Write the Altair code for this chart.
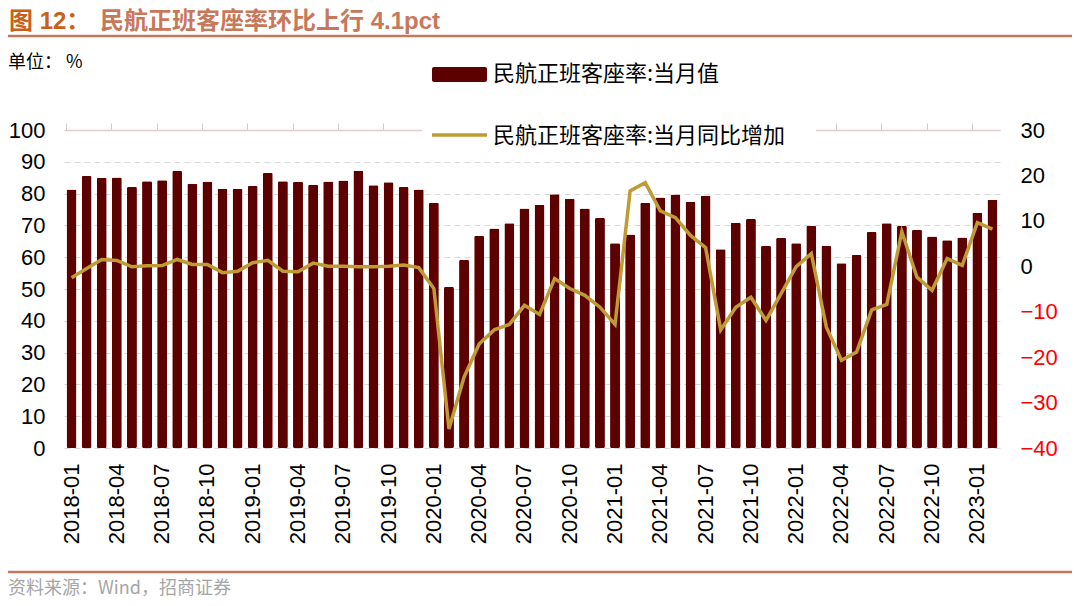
import altair as alt
import pandas as pd

# ---------------- data ----------------
months = [f"{y}-{m:02d}" for y in range(2018, 2024) for m in range(1, 13)][:62]

load_factor = [
    81.3, 85.5, 85.0, 85.1, 82.1, 83.9, 84.2, 87.1, 83.1, 83.7, 81.5, 81.5,   # 2018
    82.4, 86.5, 83.9, 83.7, 82.8, 83.8, 84.1, 87.2, 82.6, 83.6, 82.1, 81.3,   # 2019
    77.1, 50.6, 59.1, 66.7, 69.0, 70.7, 75.3, 76.5, 79.8, 78.4, 75.3, 72.3,   # 2020
    64.4, 67.1, 77.1, 78.8, 79.7, 77.4, 79.3, 62.5, 70.8, 72.0, 63.5, 66.0,   # 2021
    64.4, 69.8, 63.5, 58.1, 60.7, 67.9, 70.7, 69.8, 68.6, 66.5, 65.3, 66.2,   # 2022
    74.0, 78.1,                                                               # 2023
]

yoy_change = [
    -2.5, -0.5, 1.5, 1.3, -0.1, 0.1, 0.15, 1.5, 0.4, 0.4, -1.4, -1.1,         # 2018
    0.8, 1.3, -1.1, -1.2, 0.7, 0.0, 0.0, -0.1, -0.1, 0.0, 0.3, -0.3,          # 2019
    -4.9, -35.8, -24.4, -17.1, -14.0, -12.8, -8.6, -10.6, -2.7, -4.9, -6.4, -9.0,  # 2020
    -12.8, 16.6, 18.4, 12.2, 10.7, 6.8, 4.1, -14.0, -9.0, -6.8, -11.9, -6.0,  # 2021
    -0.1, 2.8, -13.4, -20.7, -18.9, -9.6, -8.4, 7.6, -2.4, -5.3, 1.7, 0.2,    # 2022
    9.6, 8.2,                                                                 # 2023
]

tick_months = months[::3]
left_ticks = list(range(0, 101, 10))
right_ticks = list(range(-40, 31, 10))

title_head = "图 12："
title_body = "民航正班客座率环比上行 4.1pct"
unit_text = "单位： %"
legend_bar = "民航正班客座率:当月值"
legend_line = "民航正班客座率:当月同比增加"
source_text = "资料来源：Wind，招商证券"

df = pd.DataFrame({"month": months, "load": load_factor, "yoy": yoy_change})

# ---------------- style ----------------
W, H = 936, 318
LAT = "Liberation Sans"
CJK = "Noto Sans CJK SC"
MIX = "Liberation Sans, Noto Sans CJK SC"
BAR_C = "#5C0000"
LINE_C = "#C09A35"
ACCENT = "#C87858"

x_scale = alt.Scale(paddingInner=0.34, paddingOuter=0.17)

bars = alt.Chart(df).mark_bar(color=BAR_C, cornerRadius=1.5).encode(
    x=alt.X("month:O", sort=months, scale=x_scale, title=None,
            axis=alt.Axis(values=tick_months, labelAngle=-90, labelFont=LAT,
                          labelFontSize=22, labelColor="#000000", labelPadding=15,
                          ticks=False, domain=False, grid=False)),
    y=alt.Y("load:Q", scale=alt.Scale(domain=[0, 100], nice=False), title=None,
            axis=alt.Axis(values=left_ticks, labelFont=LAT, labelFontSize=22,
                          labelColor="#000000", labelPadding=19, ticks=False,
                          domain=False, grid=True, gridColor="#D9D9D9",
                          gridDash=[6, 4], gridWidth=1)),
)

line = alt.Chart(df).mark_line(color=LINE_C, strokeWidth=3.5).encode(
    x=alt.X("month:O", sort=months, scale=x_scale, title=None,
            axis=alt.Axis(values=tick_months, labels=False, ticks=True, tickSize=7,
                          tickColor="#D9CACA", bandPosition=0, domain=True,
                          domainColor="#E2CFCF", domainWidth=1.5, grid=False)),
    y=alt.Y("yoy:Q", scale=alt.Scale(domain=[-40, 30], nice=False), title=None,
            axis=alt.Axis(orient="right", values=right_ticks, labelFont=LAT,
                          labelFontSize=22, labelPadding=20, ticks=False,
                          domain=False, grid=False,
                          labelColor={"expr": "datum.value < 0 ? '#FF0000' : '#000000'"})),
)

def text_layer(txt, x, y, size, color, font=CJK, weight="normal"):
    return alt.Chart(pd.DataFrame({"t": [txt]})).mark_text(
        align="left", baseline="middle", fontSize=size, font=font,
        fontWeight=weight, color=color
    ).encode(x=alt.value(x), y=alt.value(y), text="t:N")

one = pd.DataFrame({"k": [0]})

top_rule = alt.Chart(one).mark_rule(color=ACCENT, strokeWidth=2.5).encode(
    x=alt.value(-56), x2=alt.value(1008), y=alt.value(-94))
bottom_rule = alt.Chart(one).mark_rule(color=ACCENT, strokeWidth=2.5).encode(
    x=alt.value(-56), x2=alt.value(1008), y=alt.value(442))

legend_bg = alt.Chart(one).mark_rect(color="#FFFFFF").encode(
    x=alt.value(358), x2=alt.value(752), y=alt.value(-7), y2=alt.value(17))
legend_rect = alt.Chart(one).mark_rect(color=BAR_C, cornerRadius=2).encode(
    x=alt.value(368), x2=alt.value(423), y=alt.value(-63), y2=alt.value(-48))
legend_stroke = alt.Chart(one).mark_rule(color=LINE_C, strokeWidth=3.5).encode(
    x=alt.value(368), x2=alt.value(423), y=alt.value(5))

chart = alt.layer(
    bars, line,
    legend_bg, legend_rect, legend_stroke,
    text_layer(legend_bar, 429, -56, 22, "#000000"),
    text_layer(legend_line, 429, 6, 22, "#000000"),
    top_rule, bottom_rule,
    text_layer(title_head, -55, -108, 24, "#C8601A", font=MIX, weight="bold"),
    text_layer(title_body, 36, -108, 24, "#C8785A", font=MIX, weight="bold"),
    text_layer(unit_text, -56, -67, 18, "#000000"),
    text_layer(source_text, -56, 459, 18, "#A6A6A6"),
).resolve_scale(y="independent").resolve_axis(x="independent").properties(
    width=W, height=H,
    padding={"left": 56, "top": 122, "right": 72, "bottom": 150},
    autosize=alt.AutoSizeParams(type="none"),
    background="#FFFFFF",
).configure_view(strokeWidth=0)

chart.save("out.html", embed_options={"renderer": "svg", "actions": False})
